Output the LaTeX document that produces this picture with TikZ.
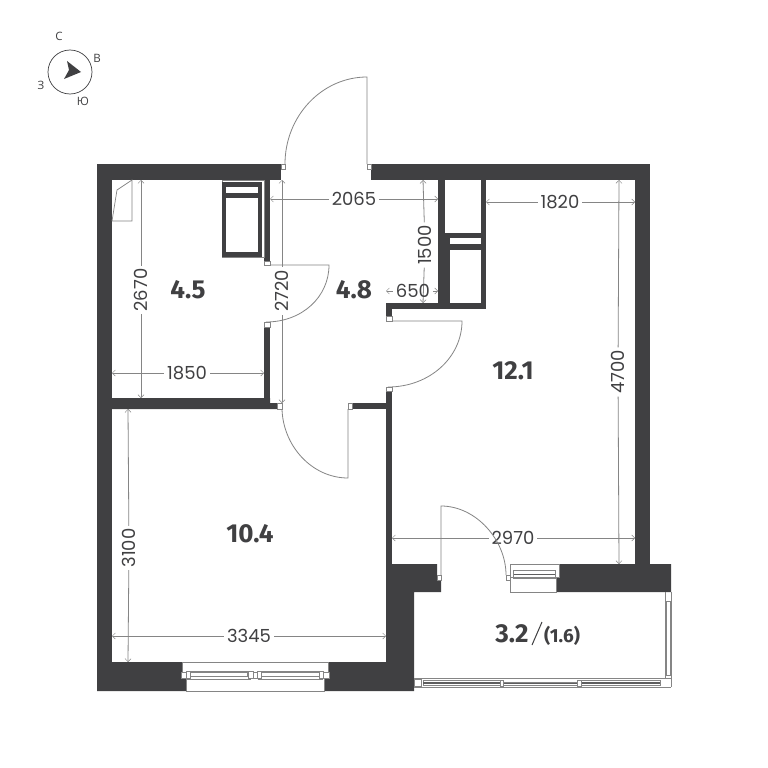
\documentclass[tikz,border=0pt]{standalone}
\usepackage{fontspec}
\setmainfont{Poppins}
\newfontfamily\roomfont{Fira Sans}
\newfontfamily\compassfont{Open Sans}
\usetikzlibrary{arrows.meta}
\definecolor{wallc}{HTML}{404042}
\definecolor{linec}{HTML}{858585}
\tikzset{
  x=1pt,y=-1pt,
  wallfill/.style={fill=wallc,draw=none},
  thin line/.style={draw=linec,line width=0.7pt},
  jamb/.style={draw=linec,line width=0.6pt,fill=white},
  door/.style={draw=linec,line width=0.8pt},
  dimline/.style={draw=linec,line width=0.8pt},
  dimend/.style={{Straight Barb[length=3pt,width=6pt,line width=0.5pt]}-},
  dimtext/.style={font=\fontsize{18}{18}\selectfont,text=wallc,inner sep=2.5pt},
  roomtext/.style={font=\roomfont\bfseries\fontsize{26}{26}\selectfont,text=wallc,inner sep=0pt},
  compasstext/.style={font=\compassfont\fontsize{11.5}{12}\selectfont,text=wallc,inner sep=0pt},
}
% name, x, y, rotation, text, end A x,y, end B x,y
\newcommand{\dimlabel}[9]{%
  \node[dimtext,rotate=#4] (#1) at (#2,#3) {#5};
  \coordinate (#1a) at (#6,#7);
  \coordinate (#1b) at (#8,#9);
  \draw[dimline,dimend] (#1a) -- (#1);
  \draw[dimline,dimend] (#1b) -- (#1);
}
\begin{document}
\begin{tikzpicture}
\useasboundingbox[fill=white] (0,0) rectangle (768,768);

% dimensions
\dimlabel{dA}{141}{290}{90}{2670}{141}{180}{141}{398}
\dimlabel{dB}{282}{291}{90}{2720}{282}{180}{282}{403}
\dimlabel{dC}{354}{199}{0}{2065}{270}{199}{438}{199}
\dimlabel{dD}{560}{202}{0}{1820}{486}{202}{635}{202}
\dimlabel{dE}{425}{245}{90}{1500}{423}{180}{423}{303}
\dimlabel{dF}{413}{291}{0}{650}{386}{291}{438}{291}
\dimlabel{dG}{618}{372}{90}{4700}{619}{180}{619}{564}
\dimlabel{dH}{187}{373}{0}{1850}{112}{373}{264}{373}
\dimlabel{dI}{129}{548}{90}{3100}{128}{409}{128}{662}
\dimlabel{dJ}{249}{636}{0}{3345}{112}{636}{386}{636}
\dimlabel{dK}{513}{538}{0}{2970}{392}{538}{635}{538}

% walls
\fill[wallfill] (97,164) rectangle (281,180);
\fill[wallfill] (97,164) rectangle (112,691);
\fill[wallfill] (97,662) -- (182,662) -- (182,675) -- (186,675) -- (186,691) -- (97,691) -- cycle;
\fill[wallfill] (386,564) -- (437,564) -- (437,580) -- (441,580) -- (441,592) -- (414,592) -- (414,691) -- (324,691) -- (324,675) -- (328,675) -- (328,662) -- (386,662) -- cycle;
\fill[wallfill] (386,391) rectangle (392,564);
\fill[wallfill] (352,403) rectangle (386,409);
\fill[wallfill] (112,398) -- (270,398) -- (270,403) -- (277,403) -- (277,409) -- (112,409) -- cycle;
\fill[wallfill] (264,327) rectangle (270,398);
\fill[wallfill] (264,180) rectangle (270,261);
\fill[wallfill] (371,164) rectangle (650,180);
\fill[wallfill] (635,164) rectangle (650,564);
\fill[wallfill] (559,564) -- (671,564) -- (671,592) -- (556,592) -- (556,577) -- (559,577) -- cycle;
% shaft
\fill[wallfill] (438,180) rectangle (445,303);
\fill[wallfill] (445,233) rectangle (450,303);
\fill[wallfill] (481,180) rectangle (486,309);
\fill[wallfill] (450,233) rectangle (481,238);
\fill[wallfill] (450,244) rectangle (481,250);
\fill[wallfill] (386,303) rectangle (486,309);
\fill[wallfill] (386,309) rectangle (392,316);

% closet appliance
\draw[thin line,line width=0.5pt] (222,180) rectangle (264,257);
\fill[wallfill] (222,182) rectangle (262,257);
\fill[white] (226,187) rectangle (258,193);
\fill[white] (226,198) rectangle (258,252);

% corner shaft
\draw[thin line] (112,221) -- (132,221) -- (132,180) -- (117,190) -- (112,221);

% jambs
\draw[jamb] (281,164) rectangle (285,169);
\draw[jamb] (367,164) rectangle (371,169);
\draw[jamb] (264,261) rectangle (270,265);
\draw[jamb] (264,322) rectangle (270,327);
\draw[jamb] (386,316) rectangle (392,321);
\draw[jamb] (386,387) rectangle (392,391);
\draw[jamb] (277,403) rectangle (282,409);
\draw[jamb] (348,403) rectangle (352,409);
\draw[jamb] (437,575) rectangle (441,580);
\draw[jamb] (506,575) rectangle (510,580);

% doors
\draw[door] (285,164) .. controls (285,116) and (322,77) .. (367,77) -- (367,164);
\draw[door] (270,265) -- (329,265) .. controls (329,297) and (302,322) .. (266,322);
\draw[door] (392,321) -- (462,321) .. controls (462,357) and (430,387) .. (388,387);
\draw[door] (282,409) .. controls (283,446) and (312,478) .. (348,478) -- (348,409);
\draw[door] (441,575) -- (441,506) .. controls (476,506) and (506,540) .. (506,575);

% balcony door frame
\draw[thin line,fill=white] (510,564) rectangle (559,577);
\draw[thin line,fill=white] (510,577) rectangle (556,592);
\fill[wallc!85!white] (513,573.5) rectangle (555,575);
\draw[thin line] (513,570) -- (555,570) -- (555,578) -- (513,578) -- cycle;

% room window
\draw[thin line,fill=white] (182,662) rectangle (328,675);
\draw[thin line,fill=white] (186,675) rectangle (324,691);
\draw[thin line,fill=white] (181,672) rectangle (329,678);
\draw[thin line,fill=white] (186,671) rectangle (250,679);
\draw[thin line,fill=white] (258,671) rectangle (322,679);
\draw[thin line] (190,672.5) rectangle (247,676.5);
\draw[thin line] (261,672.5) rectangle (319,676.5);
\draw[jamb] (186,671) rectangle (190,678);
\draw[jamb] (248,671) rectangle (253,678);
\draw[jamb] (257,671) rectangle (261,678);
\draw[jamb] (319,671) rectangle (323,678);

% balcony glazing
\draw[thin line] (414,678) -- (671,678);
\draw[thin line] (414,687) -- (671,687);
\draw[thin line] (665,592) -- (665,678);
\draw[thin line] (671,592) -- (671,687);
\draw[thin line] (423,680) rectangle (500,685);
\draw[thin line] (503,682) rectangle (577,685);
\draw[thin line] (581,680) rectangle (660,685);
\fill[wallc!85!white] (423,682) rectangle (500,684);
\fill[wallc!85!white] (503,682.5) rectangle (577,684);
\fill[wallc!85!white] (581,682) rectangle (660,684);
\draw[thin line] (666,601) rectangle (670,675);
\draw[jamb] (500,680) rectangle (503,686);
\draw[jamb] (577,680) rectangle (581,686);
\draw[jamb] (414,679) rectangle (421,686);

% room labels
\node[roomtext] (rA) at (188,290) {4.5};
\node[roomtext] (rB) at (354,290) {4.8};
\node[roomtext] (rC) at (513,371) {12.1};
\node[roomtext] (rD) at (250,534) {10.4};
\node[roomtext] (rE) at (512,634) {3.2};
\coordinate (slA) at (532,645);
\coordinate (slB) at (542,622);
\draw[draw=wallc,line width=1pt] (slA) -- (slB);
\node[roomtext,font=\roomfont\bfseries\fontsize{19}{19}\selectfont] (rF) at (562,636) {(1.6)};

% compass
\draw[draw=wallc,line width=0.7pt] (70,72) circle[radius=22];
\fill[wallc] (81,72) -- (67,61) -- (69,70) -- (64,79) -- cycle;
\node[compasstext] (cN) at (59,36) {С};
\node[compasstext] (cE) at (97,58) {В};
\node[compasstext] (cW) at (41,85) {З};
\node[compasstext] (cS) at (83,101) {Ю};
\end{tikzpicture}
\end{document}
